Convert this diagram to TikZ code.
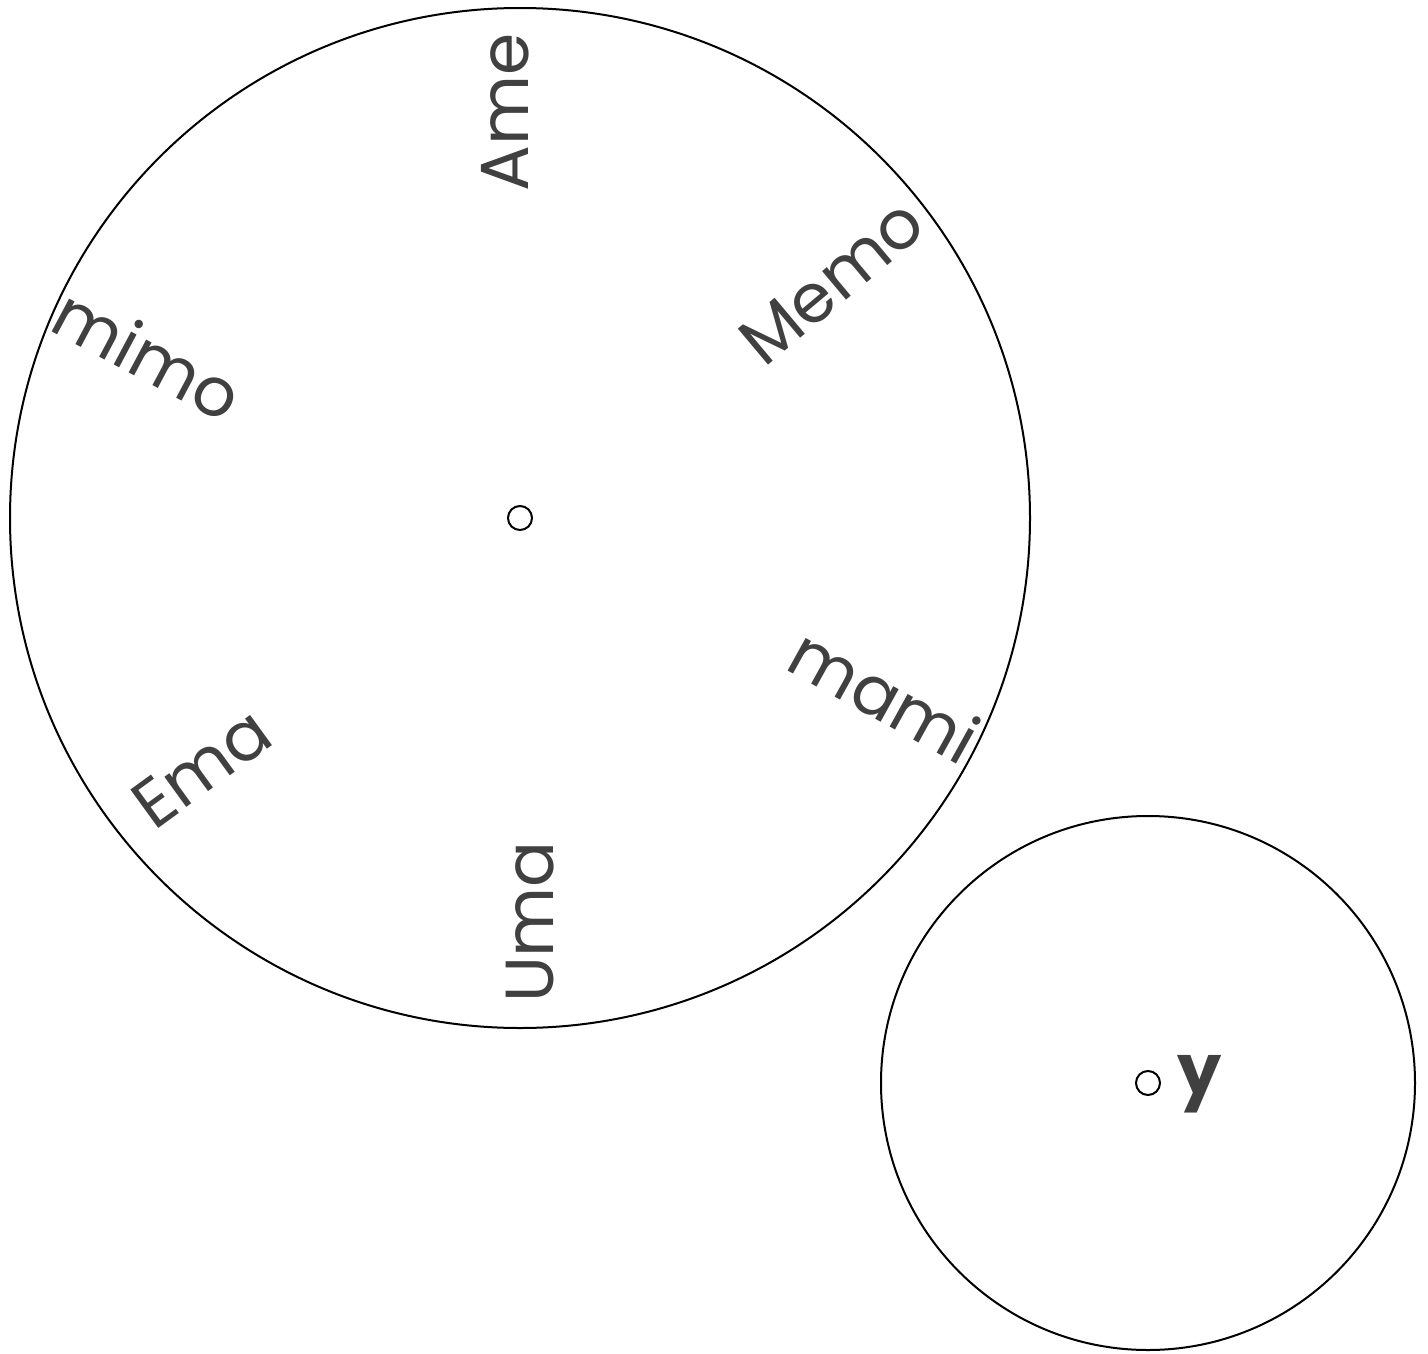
\documentclass[tikz,border=0pt]{standalone}
\usepackage{fontspec}
\setmainfont{Poppins}
\definecolor{txt}{HTML}{404040}
\begin{document}
\begin{tikzpicture}[x=1pt,y=-1pt,
  lbl/.style={text=txt,font=\fontsize{68}{68}\selectfont,inner sep=0pt},
  dot/.style={circle,draw,line width=2pt,minimum size=24pt,inner sep=0pt},
  ring/.style={circle,draw,line width=2pt,inner sep=0pt}]
\useasboundingbox (0,0) rectangle (1428,1354);
\node[ring,minimum size=1020pt] (big) at (520,518) {};
\node[ring,minimum size=534pt] (small) at (1148,1083) {};
\node[dot] (c1) at (big.center) {};
\node[dot] (c2) at (small.center) {};
\node[lbl,rotate=90] (ame) at (505,112) {Ame};
\node[lbl,rotate=40] (memo) at (832,282) {Memo};
\node[lbl,rotate=-29] (mami) at (885,695) {mami};
\node[lbl,rotate=90] (uma) at (530,922) {Uma};
\node[lbl,rotate=36] (ema) at (202,768) {Ema};
\node[lbl,rotate=-28] (mimo) at (148,354) {mimo};
\node[text=txt,font=\fontsize{70}{70}\selectfont\bfseries,anchor=west,inner sep=0pt] (y) at (1177,1084) {y};
\end{tikzpicture}
\end{document}
